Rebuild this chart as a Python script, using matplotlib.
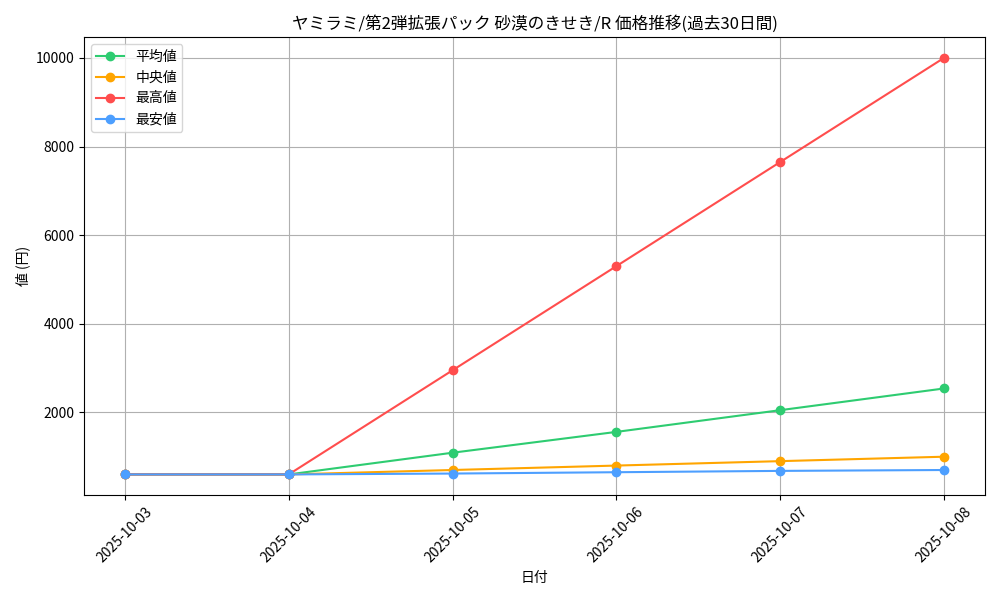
import matplotlib
matplotlib.use('Agg')
import matplotlib.pyplot as plt

plt.rcParams['font.family'] = ['Noto Sans CJK JP', 'DejaVu Sans']

# data
dates = ['2025-10-03', '2025-10-04', '2025-10-05', '2025-10-06', '2025-10-07', '2025-10-08']
avg_price = [600, 600, 1090, 1560, 2050, 2540]
median_price = [600, 600, 700, 800, 900, 1000]
max_price = [600, 600, 2950, 5300, 7650, 10000]
min_price = [600, 600, 620, 650, 680, 700]

fig, ax = plt.subplots(figsize=(10, 6), dpi=100)

x = range(len(dates))
ax.plot(x, avg_price, marker='o', color='#2ecc71', label='平均値')
ax.plot(x, median_price, marker='o', color='#ffa500', label='中央値')
ax.plot(x, max_price, marker='o', color='#ff4d4d', label='最高値')
ax.plot(x, min_price, marker='o', color='#4d9fff', label='最安値')

ax.set_xticks(list(x))
ax.set_xticklabels(dates, rotation=45)
ax.set_title('ヤミラミ/第2弾拡張パック 砂漠のきせき/R 価格推移(過去30日間)')
ax.set_xlabel('日付')
ax.set_ylabel('値 (円)')
ax.grid(True)
ax.legend(loc='upper left')

plt.tight_layout()
plt.savefig('out.png')
